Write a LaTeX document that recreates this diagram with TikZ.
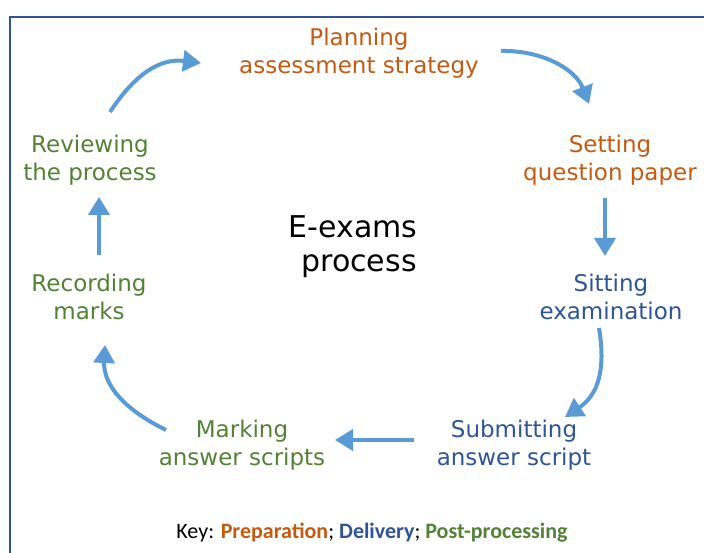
\documentclass[tikz,border=0pt]{standalone}
\usepackage{fontspec}
\setmainfont{DejaVu Sans}
\newfontfamily\keyfont{Carlito}
\usetikzlibrary{arrows.meta}
\definecolor{prep}{HTML}{C55A11}
\definecolor{deliv}{HTML}{2F5597}
\definecolor{post}{HTML}{548235}
\definecolor{arrowblue}{HTML}{5B9BD5}
\definecolor{frameblue}{HTML}{2F5597}
\tikzset{
  lab/.style={inner sep=0pt, align=center, font=\fontsize{23}{28}\selectfont},
  flow/.style={line width=4pt, arrowblue, -{Triangle[length=18pt,width=21pt]}},
}
\begin{document}
\begin{tikzpicture}[x=1pt,y=-1pt]
\useasboundingbox (0,0) rectangle (704,553);
\fill[white] (0,0) rectangle (704,553);
\draw[frameblue, line width=1.5pt] (10,560) -- (10,17) -- (710,17);

\node[lab, text=prep] (plan) at (359,54.4) {\strut Planning\\\strut assessment strategy};
\node[lab, text=prep] (set) at (610,161.4) {\strut Setting\\\strut question paper};
\node[lab, text=deliv] (sit) at (611,300.4) {\strut Sitting\\\strut examination};
\node[lab, text=deliv] (sub) at (514,445.4) {\strut Submitting\\\strut answer script};
\node[lab, text=post] (mark) at (242,445.4) {\strut Marking\\\strut answer scripts};
\node[lab, text=post] (rec) at (89,300.4) {\strut Recording\\\strut marks};
\node[lab, text=post] (rev) at (90,161.4) {\strut Reviewing\\\strut the process};
\node[inner sep=0pt, align=center, font=\fontsize{30}{34}\selectfont] (core) at (353,248.2) {\strut E-exams\\\strut\hspace*{12pt}process};

\node[inner sep=0pt, font=\keyfont\fontsize{22}{26}\selectfont] (key) at (372,533)
  {Key: \textbf{\color{prep}Preparation}; \textbf{\color{deliv}Delivery}; \textbf{\color{post}Post-processing}};

\coordinate (a1s) at (110,112); \coordinate (a1e) at (201,63);
\coordinate (a2s) at (501,51);  \coordinate (a2e) at (589,104);
\coordinate (a3s) at (605,198); \coordinate (a3e) at (605,256);
\coordinate (a4s) at (599,328); \coordinate (a4e) at (565,417);
\coordinate (a5s) at (414,440); \coordinate (a5e) at (335,440);
\coordinate (a6s) at (166,430); \coordinate (a6e) at (105,345);
\coordinate (a7s) at (99,255);  \coordinate (a7e) at (99,197);

\draw[flow] (a1s) .. controls (135,74) and (160,58) .. (a1e);
\draw[flow] (a2s) .. controls (540,50) and (575,68) .. (a2e);
\draw[flow] (a3s) -- (a3e);
\draw[flow] (a4s) .. controls (606,370) and (598,395) .. (a4e);
\draw[flow] (a5s) -- (a5e);
\draw[flow] (a6s) .. controls (125,410) and (103,385) .. (a6e);
\draw[flow] (a7s) -- (a7e);
\end{tikzpicture}
\end{document}
